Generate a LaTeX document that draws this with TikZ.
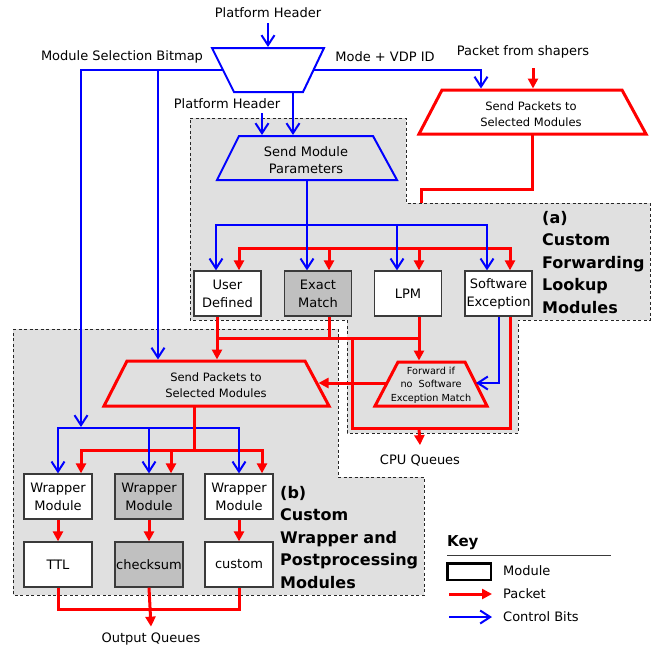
\documentclass[tikz,border=0pt]{standalone}
\usepackage{fontspec}
\setmainfont{DejaVu Sans}
\usetikzlibrary{arrows.meta}
\definecolor{regiongray}{HTML}{E0E0E0}
\definecolor{boxgray}{HTML}{C0C0C0}
\definecolor{edgegray}{HTML}{3A3A3A}
\newcommand{\myfs}[2]{\fontsize{#1}{#2}\selectfont}
\begin{document}
\begin{tikzpicture}[x=1pt,y=-1pt,
  redl/.style={draw=red,line width=3pt},
  bluel/.style={draw=blue,line width=2pt},
  redarr/.style={redl,-{Triangle[width=10pt,length=10pt]}},
  bluearr/.style={bluel,-{Straight Barb[width=13pt,length=10pt]}},
  region/.style={fill=regiongray,draw=black!85,line width=0.9pt,dash pattern=on 3pt off 2.5pt},
  module/.style={draw=edgegray,line width=1.3pt,fill=white,minimum width=67pt,minimum height=45pt,inner sep=0pt,align=center,font=\myfs{13}{18}},
  graymodule/.style={module,fill=boxgray},
  lbl/.style={inner sep=0pt,font=\myfs{13}{16}},
  bigl/.style={inner sep=0pt,anchor=base west,font=\bfseries\myfs{16}{22}},
  trapred/.style={draw=red,line width=3pt,line join=miter},
  trapblue/.style={draw=blue,line width=2pt,line join=miter},
]
\useasboundingbox (0,0) rectangle (663,654);

% shaded regions
\path[region] (190,118) -- (406,118) -- (406,203) -- (650,203) -- (650,320) -- (518,320)
  -- (518,433) -- (347,433) -- (347,320) -- (190,320) -- cycle;
\path[region] (13,329) -- (338,329) -- (338,477) -- (424,477) -- (424,595) -- (13,595) -- cycle;

% trapezoids
\draw[trapblue,fill=white] (212,48) -- (324,48) -- (303,92) -- (234,92) -- cycle;
\draw[trapblue] (239,136) -- (373,136) -- (397,180) -- (217,180) -- cycle;
\node[lbl,align=center,font=\myfs{13}{17}] (smp) at (306,160) {Send Module\\Parameters};
\draw[trapred,fill=white] (442,90) -- (622,90) -- (646,134) -- (419,134) -- cycle;
\node[lbl,align=center,font=\myfs{11.5}{16}] (spa) at (531,114) {Send Packets to\\Selected Modules};
\draw[trapred] (398,362) -- (465,362) -- (487,406) -- (375,406) -- cycle;
\node[lbl,align=center,font=\myfs{9.7}{13.5}] (fw) at (431,385) {Forward if\\no\ \ Software\\Exception Match};
\draw[trapred] (127,361) -- (305,361) -- (329,406) -- (104,406) -- cycle;
\node[lbl,align=center,font=\myfs{11.5}{16}] (spb) at (216,385) {Send Packets to\\Selected Modules};

% ports
\coordinate (muxT) at (268,47);
\coordinate (muxL) at (223,70);
\coordinate (muxR) at (313.5,70);
\coordinate (muxB) at (293,92);
\coordinate (ph2a) at (262,113);
\coordinate (smpT1) at (262,135);
\coordinate (smpT2) at (293,135);
\coordinate (smpB) at (307,180);
\coordinate (pfsA) at (533,68);
\coordinate (spaT1) at (481,88.5);
\coordinate (spaT2) at (533,88.5);
\coordinate (spaB) at (532,134);
\coordinate (redin) at (421,203);
\coordinate (fwT) at (419,360.5);
\coordinate (fwL) at (386,383);
\coordinate (fwR) at (476,383);
\coordinate (spbT1) at (158,359.5);
\coordinate (spbT2) at (217,359.5);
\coordinate (spbR) at (318.5,383);
\coordinate (spbB) at (194,406);
\coordinate (bitL) at (81,427);

% modules (a)
\node[module] (ud) at (227.5,293.5) {User\\Defined};
\node[graymodule] (em) at (318,293.5) {Exact\\Match};
\node[module] (lpm) at (408,293.5) {LPM};
\node[module] (swe) at (498.5,293.5) {Software\\Exception};

% modules (b)
\node[module,minimum width=68pt] (w1) at (58,496.5) {Wrapper\\Module};
\node[graymodule,minimum width=68pt] (w2) at (149,496.5) {Wrapper\\Module};
\node[module,minimum width=68pt] (w3) at (239,496.5) {Wrapper\\Module};
\node[module,minimum width=68pt] (ttl) at (58,564.5) {TTL};
\node[graymodule,minimum width=68pt] (chk) at (149,564.5) {checksum};
\node[module,minimum width=68pt] (cus) at (239,564.5) {custom};

% text labels
\node[lbl] (ph1) at (268,13) {Platform Header};
\node[lbl] (ph2) at (227,104) {Platform Header};
\node[lbl] (msb) at (122,57) {Module Selection Bitmap};
\node[lbl] (mode) at (385,57) {Mode + VDP ID};
\node[lbl] (pfs) at (523,52) {Packet from shapers};
\node[lbl] (cpu) at (420,461) {CPU Queues};
\node[lbl] (outq) at (151,639) {Output Queues};

\node[bigl] (la1) at (542,223.4) {(a)};
\node[bigl] (la2) at (542,245.8) {Custom};
\node[bigl] (la3) at (542,268.2) {Forwarding};
\node[bigl] (la4) at (542,290.6) {Lookup};
\node[bigl] (la5) at (542,313.0) {Modules};
\node[bigl] (lb1) at (280,498.3) {(b)};
\node[bigl] (lb2) at (280,520.8) {Custom};
\node[bigl] (lb3) at (280,543.3) {Wrapper and};
\node[bigl] (lb4) at (280,565.8) {Postprocessing};
\node[bigl] (lb5) at (280,588.3) {Modules};

% top connectors
\draw[bluearr] ([yshift=-5pt]ph1.south) -- (muxT);
\draw[bluearr] (muxL) -- (81,70) -- (bitL);
\draw[bluearr] (158,70) -- (spbT1);
\draw[bluearr] (muxR) -| (spaT1);
\draw[redarr] (pfsA) -- (spaT2);
\draw[bluearr] (ph2a) -- (smpT1);
\draw[bluearr] (muxB) -- (smpT2);
\draw[redl] (spaB) |- (421,189) -- (redin);

% region (a) inputs
\draw[redarr] (329,248) -| ([xshift=11.5pt]ud.north);
\draw[redarr] (329,248) -| ([xshift=11.5pt]swe.north);
\draw[redarr] (329,248) -- ([xshift=11pt]em.north);
\draw[redarr] (419,248) -- ([xshift=11pt]lpm.north);
\draw[bluearr] (smpB) -- ([xshift=-11pt]em.north);
\draw[bluearr] (307,225) -| ([xshift=-11.5pt]ud.north);
\draw[bluearr] (307,225) -| ([xshift=-11.5pt]swe.north);
\draw[bluearr] (397,225) -- ([xshift=-11pt]lpm.north);

% region (a) outputs
\draw[redarr] ([xshift=-10.5pt]ud.south) -- (spbT2);
\draw[redl] (217,338) -- (419,338);
\draw[redl] ([xshift=11pt]em.south) -- (329,338);
\draw[redarr] ([xshift=11pt]lpm.south) -- (fwT);
\draw[redl] (352,338) -- (352,428) -- (510,428) -- ([xshift=11.5pt]swe.south);
\draw[redarr] (419,428) -- ([yshift=10pt]cpu.north);
\draw[bluearr] (swe.south) |- (fwR);
\draw[redarr] (fwL) -- (spbR);

% region (b)
\draw[redarr] (194,450) -| ([xshift=23pt]w1.north);
\draw[redarr] (194,450) -| ([xshift=23pt]w3.north);
\draw[redarr] (171,450) -- ([xshift=22pt]w2.north);
\draw[bluearr] (149,428) -| (w1.north);
\draw[bluearr] (149,428) -| (w3.north);
\draw[bluearr] (149,428) -- (w2.north);
\draw[redl] (spbB) -- (194,450);
\draw[redarr] (w1) -- (ttl);
\draw[redarr] (w2) -- (chk);
\draw[redarr] (w3) -- (cus);
\draw[redl] (ttl.south) -- (58,609) -- (239,609) -- (cus.south);
\draw[redarr] (chk.south) -- ([yshift=6pt]outq.north);

% key
\node[inner sep=0pt,anchor=west,font=\bfseries\myfs{15}{18}] (key) at (447,543) {Key};
\coordinate (kl1) at (447,555);
\coordinate (kl2) at (611,555);
\draw[line width=1pt,draw=edgegray] (kl1) -- (kl2);
\node[draw=black,line width=2.5pt,minimum width=43.5pt,minimum height=16.5pt,inner sep=0pt] (keymod) at (469,571.5) {};
\node[lbl,anchor=west] (kmt) at (503,571) {Module};
\coordinate (kp1) at (449,594);
\coordinate (kp2) at (492,594);
\draw[redarr] (kp1) -- (kp2);
\node[lbl,anchor=west] (kpt) at (503,594) {Packet};
\coordinate (kc1) at (449,617);
\coordinate (kc2) at (492,617);
\draw[bluearr] (kc1) -- (kc2);
\node[lbl,anchor=west] (kct) at (503,617) {Control Bits};
\end{tikzpicture}
\end{document}
